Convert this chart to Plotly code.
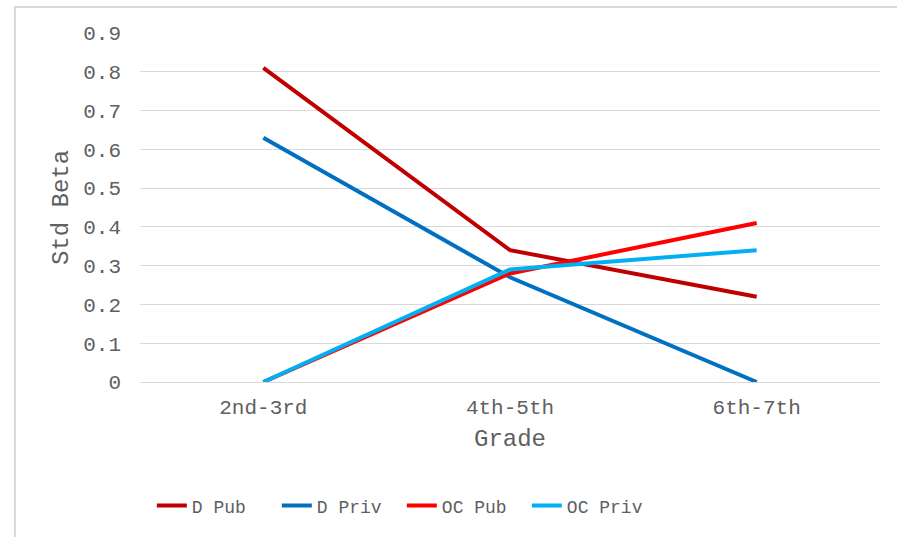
import plotly.graph_objects as go

# Grade bands on the category axis
grades = ["2nd-3rd", "4th-5th", "6th-7th"]

# Standardised beta per group and grade
d_pub = [0.81, 0.34, 0.22]
d_priv = [0.63, 0.27, 0.00]
oc_pub = [0.00, 0.28, 0.41]
oc_priv = [0.00, 0.29, 0.34]

series_names = ["D Pub", "D Priv", "OC Pub", "OC Priv"]
series_values = [d_pub, d_priv, oc_pub, oc_priv]
series_colors = ["#C00000", "#0070C0", "#FF0000", "#00B0F0"]

y_ticks = [0, 0.1, 0.2, 0.3, 0.4, 0.5, 0.6, 0.7, 0.8, 0.9]
y_tick_text = ["0", "0.1", "0.2", "0.3", "0.4", "0.5", "0.6", "0.7", "0.8", "0.9"]

FONT = "Liberation Mono, Courier New, monospace"
TEXT = "#606060"
GRID = "#D9D9D9"

fig = go.Figure()
for name, vals, col in zip(series_names, series_values, series_colors):
    fig.add_trace(go.Scatter(
        x=grades, y=vals, name=name, mode="lines",
        line=dict(color=col, width=4),
    ))

fig.update_layout(
    width=897, height=537,
    margin=dict(l=140, r=17, t=33, b=155),
    paper_bgcolor="white", plot_bgcolor="white",
    font=dict(family=FONT, color=TEXT),
    showlegend=True,
    legend=dict(
        orientation="h", x=0.016, xanchor="left", y=-0.355, yanchor="middle",
        font=dict(family=FONT, size=18, color=TEXT),
        entrywidth=80, entrywidthmode="pixels",
        bgcolor="rgba(0,0,0,0)",
    ),
    xaxis=dict(
        range=[-0.5, 2.5], showgrid=False, zeroline=False,
        showline=False, ticks="", ticklabelstandoff=10,
        tickfont=dict(family=FONT, size=21, color=TEXT),
        title=dict(text="Grade", font=dict(family=FONT, size=24, color=TEXT), standoff=10),
    ),
    yaxis=dict(
        range=[0, 0.9], tickvals=y_ticks, ticktext=y_tick_text,
        showgrid=True, gridcolor=GRID, gridwidth=1,
        zeroline=True, zerolinecolor=GRID, zerolinewidth=1,
        showline=False, ticks="", ticklabelstandoff=18,
        tickfont=dict(family=FONT, size=21, color=TEXT),
        title=dict(text="Std Beta", font=dict(family=FONT, size=24, color=TEXT), standoff=7),
    ),
    shapes=[dict(
        type="rect", xref="paper", yref="paper",
        x0=-0.169, x1=1.3, y0=-1.0, y1=1.0745,
        line=dict(color=GRID, width=2), fillcolor="rgba(0,0,0,0)", layer="below",
    )],
)

fig.write_html("out.html")
